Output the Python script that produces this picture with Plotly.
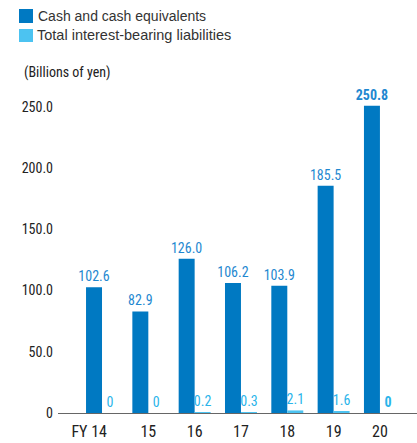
import plotly.graph_objects as go

years = ["FY 14", "15", "16", "17", "18", "19", "20"]
cash = [102.6, 82.9, 126.0, 106.2, 103.9, 185.5, 250.8]
debt = [0, 0, 0.2, 0.3, 2.1, 1.6, 0]
cash_labels = ["102.6", "82.9", "126.0", "106.2", "103.9", "185.5", "<b>250.8</b>"]
debt_labels = ["0", "0", "0.2", "0.3", "2.1", "1.6", "<b>0</b>"]
yticks = [0, 50, 100, 150, 200, 250]
ytick_text = ["0", "50.0", "100.0", "150.0", "200.0", "250.0"]
xtick_text = ["FY 14" + "\u00a0" * 7, "15", "16", "17", "18", "19", "20"]

COND = "Roboto Condensed, Liberation Sans Narrow, sans-serif"
REG = "Liberation Sans, Arial, sans-serif"
DARK = "#0079c2"
LIGHT = "#4cc3f1"

W, H = 417, 443
L, R, T, B = 58, 0, 78, 30


def px(x):
    return (x - L) / (W - L - R)


def py(y):
    return (H - B - y) / (H - T - B)


fig = go.Figure()
fig.add_trace(go.Bar(
    x=years, y=cash, name="Cash and cash equivalents",
    marker=dict(color=DARK, line=dict(width=0)),
    text=cash_labels, textposition="outside", cliponaxis=False,
    constraintext="none",
    textfont=dict(color="#1f88d0", size=14, family=COND),
))
fig.add_trace(go.Bar(
    x=years, y=debt, name="Total interest-bearing liabilities",
    marker=dict(color=LIGHT, line=dict(width=0)),
    text=debt_labels, textposition="outside", cliponaxis=False,
    constraintext="none",
    textfont=dict(color="#2ab4ea", size=14, family=COND),
))

shapes = [
    dict(type="rect", xref="paper", yref="paper", x0=px(19), x1=px(33), y0=py(9), y1=py(23),
         fillcolor=DARK, line=dict(width=0), layer="above"),
    dict(type="rect", xref="paper", yref="paper", x0=px(19), x1=px(33), y0=py(29), y1=py(42),
         fillcolor=LIGHT, line=dict(width=0), layer="above"),
]
annotations = [
    dict(text="Cash and cash equivalents", xref="paper", yref="paper", x=px(36), y=py(16),
         xanchor="left", yanchor="middle", showarrow=False,
         font=dict(size=14, family=REG, color="#333333")),
    dict(text="Total interest-bearing liabilities", xref="paper", yref="paper", x=px(35), y=py(35.5),
         xanchor="left", yanchor="middle", showarrow=False,
         font=dict(size=14.5, family=REG, color="#333333")),
    dict(text="(Billions of yen)", xref="paper", yref="paper", x=px(22), y=py(73),
         xanchor="left", yanchor="middle", showarrow=False,
         font=dict(size=14, family=COND, color="#222222")),
]

fig.update_layout(
    width=W, height=H,
    margin=dict(l=L, r=R, t=T, b=B),
    plot_bgcolor="white", paper_bgcolor="white",
    font=dict(family=COND, color="#222222", size=13),
    showlegend=False,
    barmode="group", bargap=0.31, bargroupgap=0,
    xaxis=dict(
        range=[-0.95, 6.8], showgrid=False, showline=True,
        linecolor="#666666", linewidth=1, ticks="",
        tickvals=years, ticktext=xtick_text,
        ticklabelstandoff=4,
        tickfont=dict(size=16, family=COND, color="#222222"),
    ),
    yaxis=dict(
        range=[0, 273.5], showgrid=False, zeroline=False, showline=False,
        tickvals=yticks, ticktext=ytick_text, ticks="",
        ticklabelstandoff=4,
        tickfont=dict(size=14, family=COND, color="#222222"),
    ),
    shapes=shapes,
    annotations=annotations,
)

fig.write_html(
    "out.html",
    config={"displayModeBar": False},
    post_script="document.body.style.margin='0';document.body.style.padding='0';"
                "document.documentElement.style.overflow='hidden';",
)
